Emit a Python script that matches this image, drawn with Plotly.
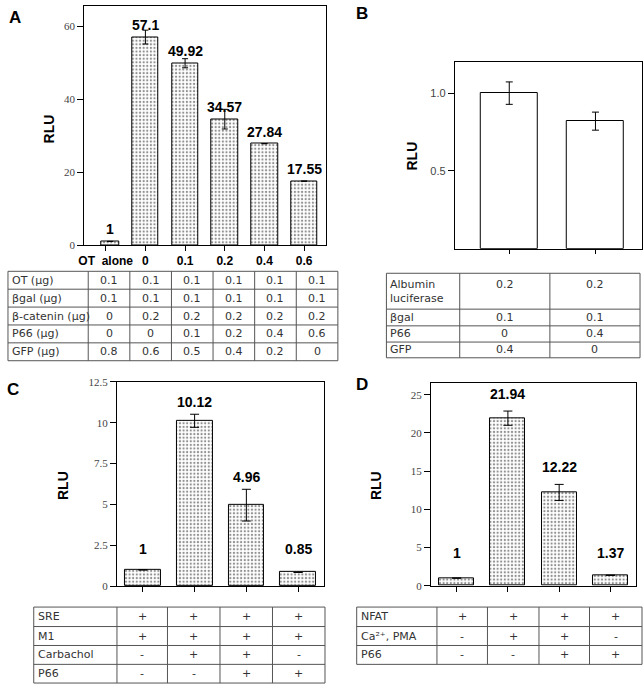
import plotly.graph_objects as go

# ---------------- data ----------------
A_categories = ["OT  alone", "0", "0.1", "0.2", "0.4", "0.6"]
A_values = [1, 57.1, 49.92, 34.57, 27.84, 17.55]
A_errors = [0, 1.9, 1.25, 2.7, 0, 0]
A_labels = ["1", "57.1", "49.92", "34.57", "27.84", "17.55"]
A_row_names = ["OT (µg)", "βgal (µg)", "β-catenin (µg)", "P66 (µg)", "GFP (µg)"]
A_rows = [
    ["0.1", "0.1", "0.1", "0.1", "0.1", "0.1"],
    ["0.1", "0.1", "0.1", "0.1", "0.1", "0.1"],
    ["0", "0.2", "0.2", "0.2", "0.2", "0.2"],
    ["0", "0", "0.1", "0.2", "0.4", "0.6"],
    ["0.8", "0.6", "0.5", "0.4", "0.2", "0"],
]
A_yticks = [0, 20, 40, 60]

B_categories = ["b1", "b2"]
B_values = [1.0, 0.82]
B_errors = [0.072, 0.058]
B_row_names = ["Albumin<br>luciferase", "βgal", "P66", "GFP"]
B_rows = [
    ["0.2", "0.2"],
    ["0.1", "0.1"],
    ["0", "0.4"],
    ["0.4", "0"],
]
B_yticks = [0.5, 1.0]
B_yticklabels = ["0.5", "1.0"]

C_categories = ["c1", "c2", "c3", "c4"]
C_values = [1, 10.12, 4.96, 0.85]
C_errors = [0, 0.4, 0.97, 0]
C_labels = ["1", "10.12", "4.96", "0.85"]
C_row_names = ["SRE", "M1", "Carbachol", "P66"]
C_rows = [
    ["+", "+", "+", "+"],
    ["+", "+", "+", "+"],
    ["-", "+", "+", "-"],
    ["-", "-", "+", "+"],
]
C_yticks = [0, 2.5, 5, 7.5, 10, 12.5]
C_yticklabels = ["0", "2.5", "5", "7.5", "10", "12.5"]

D_categories = ["d1", "d2", "d3", "d4"]
D_values = [1, 21.94, 12.22, 1.37]
D_errors = [0, 0.93, 1.05, 0]
D_labels = ["1", "21.94", "12.22", "1.37"]
D_row_names = ["NFAT", "Ca²⁺, PMA", "P66"]
D_rows = [
    ["+", "+", "+", "+"],
    ["-", "+", "+", "-"],
    ["-", "-", "+", "+"],
]
D_yticks = [0, 5, 10, 15, 20, 25]

# ---------------- layout helpers ----------------
W, H = 643, 691
def X(px):
    return px / W
def Y(py):
    return 1 - py / H

SANS = "Liberation Sans, Arial, sans-serif"
SERIF = "Liberation Serif, Times New Roman, serif"
TABLE_FONT = "DejaVu Sans, Verdana, sans-serif"
LINE_GRAY = "#555555"
TEXT_GRAY = "#333333"

def errs(arr):
    return [e if e else None for e in arr]

dot_marker = dict(
    color="white",
    line=dict(color="black", width=1),
    pattern=dict(shape=".", fgcolor="#222222", bgcolor="white", size=3.6, solidity=0.3),
)

fig = go.Figure()

# Panel A bars (first bar narrower, slightly shifted)
A_width = [0.465] + [0.67] * 5
A_offset = [-0.12] + [-0.335] * 5
fig.add_trace(go.Bar(
    x=A_categories, y=A_values, width=A_width, offset=A_offset,
    marker=dot_marker,
    error_y=dict(type="data", array=errs(A_errors), color="black", thickness=1, width=3),
    xaxis="x", yaxis="y", showlegend=False, hoverinfo="skip",
))

# Panel B bars
fig.add_trace(go.Bar(
    x=B_categories, y=B_values, width=0.667,
    marker=dict(color="white", line=dict(color="black", width=1)),
    error_y=dict(type="data", array=errs(B_errors), color="black", thickness=1, width=3.5),
    xaxis="x2", yaxis="y2", showlegend=False, hoverinfo="skip",
))

# Panel C bars
fig.add_trace(go.Bar(
    x=C_categories, y=C_values, width=0.69,
    marker=dot_marker,
    error_y=dict(type="data", array=errs(C_errors), color="black", thickness=1, width=4.5),
    xaxis="x3", yaxis="y3", showlegend=False, hoverinfo="skip",
))

# Panel D bars
fig.add_trace(go.Bar(
    x=D_categories, y=D_values, width=0.68,
    marker=dot_marker,
    error_y=dict(type="data", array=errs(D_errors), color="black", thickness=1, width=4.5),
    xaxis="x4", yaxis="y4", showlegend=False, hoverinfo="skip",
))

# ---------------- axes ----------------
axis_common = dict(showline=True, linecolor="black", linewidth=1, mirror=True,
                   showgrid=False, zeroline=False)

fig.update_layout(
    width=W, height=H, margin=dict(l=0, r=0, t=0, b=0),
    paper_bgcolor="white", plot_bgcolor="white", showlegend=False,
    bargap=0,
    xaxis=dict(**axis_common, domain=[X(79), X(323)], anchor="y", type="category",
               range=[-0.54, 5.55], ticks="outside", ticklen=5, tickcolor="black",
               tickfont=dict(family=SANS, size=12, color="black", weight="bold")),
    yaxis=dict(**axis_common, domain=[Y(243.3), Y(0.5)], anchor="x", range=[0, 65.5],
               tickvals=A_yticks, ticks="outside", ticklen=6, tickcolor="black",
               tickfont=dict(family=SERIF, size=11, color="#444444")),
    xaxis2=dict(**axis_common, domain=[X(453), X(642)], anchor="y2", type="category",
                range=[-0.632, 1.54], ticks="outside", ticklen=4, tickcolor="black",
                showticklabels=False),
    yaxis2=dict(**axis_common, domain=[Y(247), Y(57)], anchor="x2", range=[0, 1.2],
                tickvals=B_yticks, ticktext=B_yticklabels, ticks="outside", ticklen=6,
                tickcolor="black", tickfont=dict(family=SANS, size=11, color="#444444")),
    xaxis3=dict(**axis_common, domain=[X(112), X(321)], anchor="y3", type="category",
                range=[-0.5, 3.5], ticks="outside", ticklen=5, tickcolor="black",
                showticklabels=False),
    yaxis3=dict(**axis_common, domain=[Y(590.5), Y(382.5)], anchor="x3", range=[0, 12.5],
                tickvals=C_yticks, ticktext=C_yticklabels, ticks="outside", ticklen=6,
                tickcolor="black", tickfont=dict(family=SERIF, size=11, color="#444444")),
    xaxis4=dict(**axis_common, domain=[X(429), X(636)], anchor="y4", type="category",
                range=[-0.5, 3.5], ticks="outside", ticklen=5, tickcolor="black",
                showticklabels=False),
    yaxis4=dict(**axis_common, domain=[Y(590), Y(384)], anchor="x4", range=[0, 26.5],
                tickvals=D_yticks, ticks="outside", ticklen=6, tickcolor="black",
                tickfont=dict(family=SERIF, size=11, color="#444444")),
)

shapes = []
ann = []

# ---------------- tables (lines + text) ----------------
LINE_H = 14.3  # approx. line height of 11px text

def draw_table(names, rows, colwidths, x0, y0, row_heights):
    xs = [x0]
    for w in colwidths:
        xs.append(xs[-1] + w)
    ys = [y0]
    for h in row_heights:
        ys.append(ys[-1] + h)
    line = dict(color=LINE_GRAY, width=1)
    shapes.append(dict(type="rect", xref="paper", yref="paper",
                       x0=X(xs[0]), x1=X(xs[-1]), y0=Y(ys[-1]), y1=Y(ys[0]), line=line))
    for xv in xs[1:-1]:
        shapes.append(dict(type="line", xref="paper", yref="paper",
                           x0=X(xv), x1=X(xv), y0=Y(ys[-1]), y1=Y(ys[0]), line=line))
    for yv in ys[1:-1]:
        shapes.append(dict(type="line", xref="paper", yref="paper",
                           x0=X(xs[0]), x1=X(xs[-1]), y0=Y(yv), y1=Y(yv), line=line))
    font = dict(family=TABLE_FONT, size=11, color=TEXT_GRAY)
    for r, (name, vals) in enumerate(zip(names, rows)):
        mid = (ys[r] + ys[r + 1]) / 2
        nlines = name.count("<br>") + 1
        first_line_mid = mid - (nlines - 1) * LINE_H / 2
        ann.append(dict(x=X(xs[0] + 3), y=Y(mid), xref="paper", yref="paper", text=name,
                        showarrow=False, xanchor="left", yanchor="middle", align="left",
                        font=font, borderpad=0))
        for c, v in enumerate(vals):
            cx = (xs[c + 1] + xs[c + 2]) / 2
            ann.append(dict(x=X(cx), y=Y(first_line_mid), xref="paper", yref="paper",
                            text=v, showarrow=False, xanchor="center", yanchor="middle",
                            font=font, borderpad=0))

draw_table(A_row_names, A_rows, [81, 42, 42, 42, 42, 42, 42], 2, 270, [18.2] * 5)
draw_table(B_row_names, B_rows, [74, 91, 91], 384, 272, [36.5, 17, 16.5, 16])
draw_table(C_row_names, C_rows, [84, 51, 53, 53, 53], 28, 611.7, [19.8, 19.3, 19.2, 19])
draw_table(D_row_names, D_rows, [81, 51, 52, 51, 53], 354, 611.7, [19.8, 19.3, 19.2])

# ---------------- value labels ----------------
lab_font = dict(family=SANS, size=14, color="black", weight="bold")
for i, (v, t) in enumerate(zip(A_values, A_labels)):
    xpos = i + 0.11 if i == 0 else i
    ann.append(dict(x=xpos, y=v, xref="x", yref="y", text=t, showarrow=False,
                    yanchor="bottom", yshift=2, font=lab_font))
for i, (v, e, t) in enumerate(zip(C_values, C_errors, C_labels)):
    ann.append(dict(x=i, y=max(v + e, 1.5), xref="x3", yref="y3", text=t, showarrow=False,
                    yanchor="bottom", yshift=2.5, font=lab_font))
for i, (v, e, t) in enumerate(zip(D_values, D_errors, D_labels)):
    ann.append(dict(x=i, y=max(v + e, 2.0), xref="x4", yref="y4", text=t, showarrow=False,
                    yanchor="bottom", yshift=7.5, font=lab_font))

rlu_font = dict(family=SANS, size=14, color="black", weight="bold")
for px, py in [(43, 125), (410, 153), (57, 488), (373, 488)]:
    ann.append(dict(x=X(px), y=Y(py), xref="paper", yref="paper", text="RLU",
                    showarrow=False, textangle=-90, font=rlu_font,
                    xanchor="center", yanchor="middle"))

letter_font = dict(family=SANS, size=17, color="black", weight="bold")
for letter, px, py in [("A", 9, 11.5), ("B", 359.5, 8), ("C", 7.5, 390), ("D", 359, 385)]:
    ann.append(dict(x=X(px), y=Y(py), xref="paper", yref="paper", text=letter,
                    showarrow=False, font=letter_font, xanchor="center", yanchor="middle"))

fig.update_layout(shapes=shapes, annotations=ann)

fig.write_html("out.html",
               config={"displayModeBar": False},
               post_script="document.body.style.margin='0px';document.body.style.overflow='hidden';")
